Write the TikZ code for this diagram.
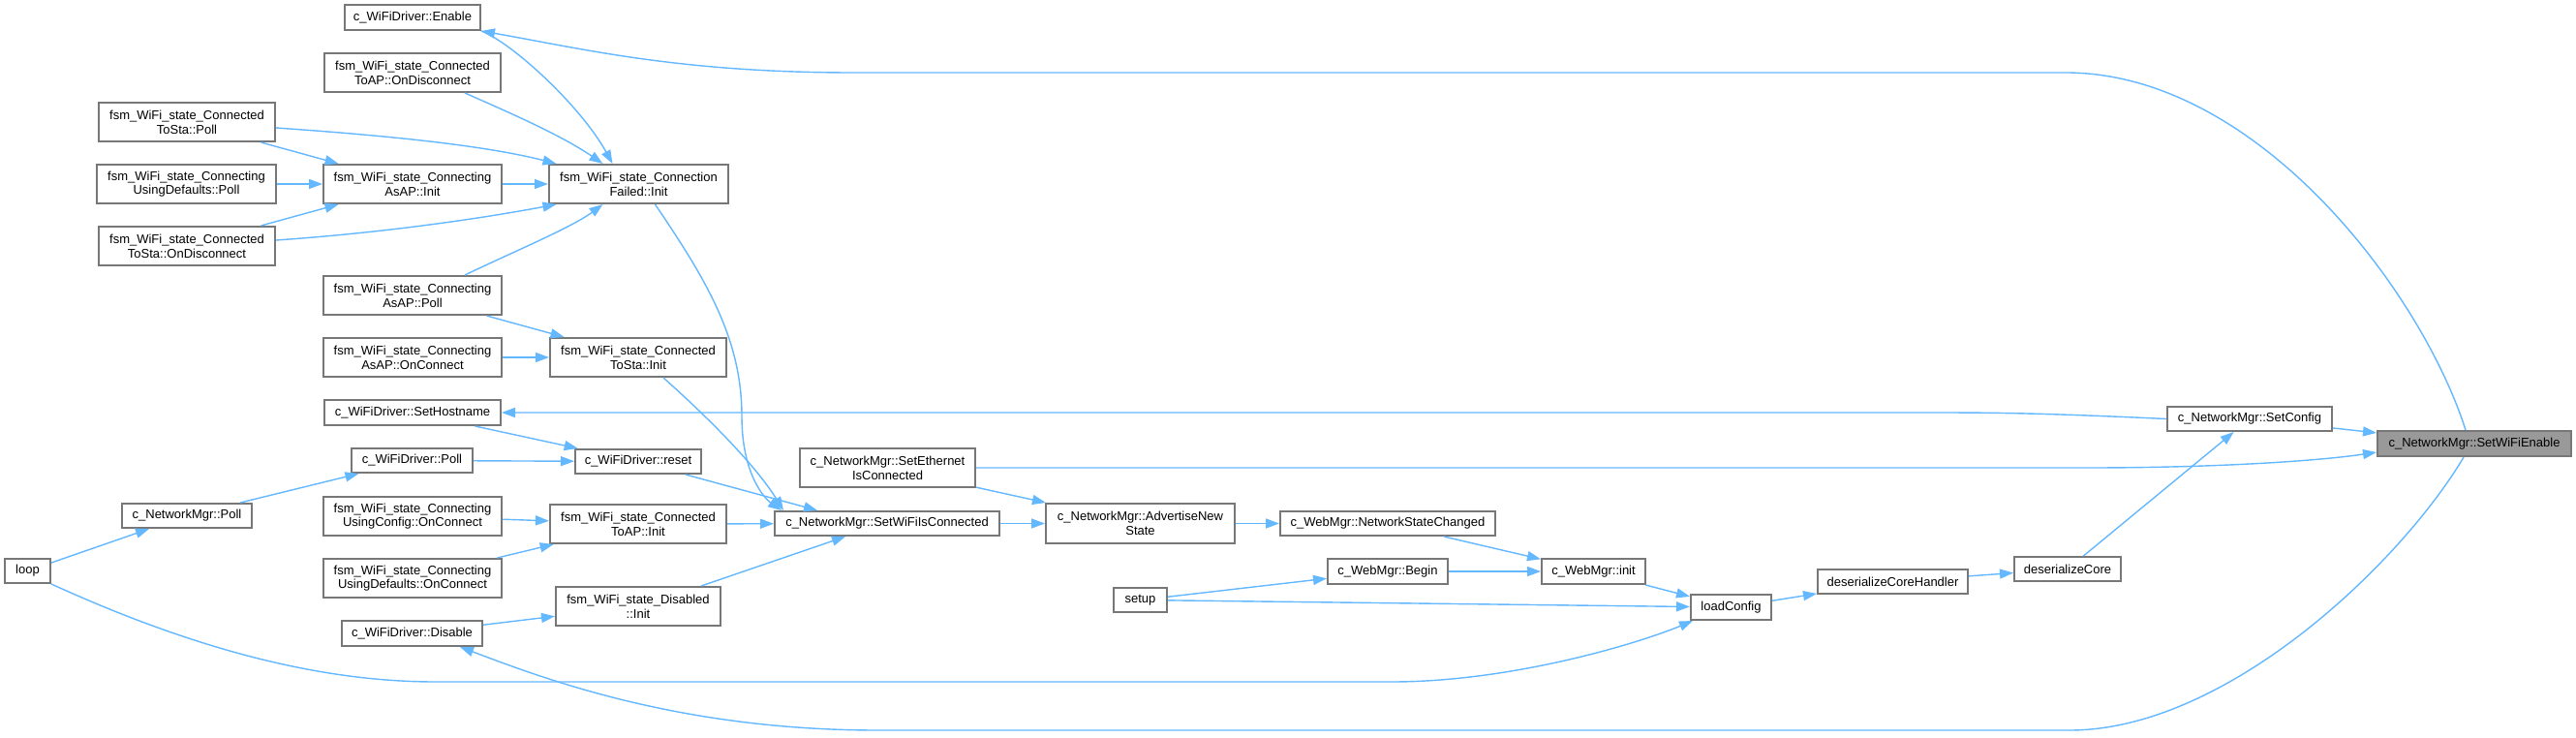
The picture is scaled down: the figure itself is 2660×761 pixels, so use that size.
\documentclass[tikz,border=0pt]{standalone}
\usepackage{fontspec}
\setmainfont{Liberation Sans}
\usetikzlibrary{arrows.meta}
\definecolor{edgeblue}{HTML}{63B8FF}
\definecolor{boxborder}{HTML}{777777}
\definecolor{hifill}{HTML}{999999}
\newcommand{\bx}[7][]{\node[box,#1,minimum width={(#5-#3)*0.5pt},minimum height={(#6-#4)*0.5pt}] (#2) at ({(#3+#5)/2},{(#4+#6)/2}) {#7};}
\begin{document}
\begin{tikzpicture}[x=0.5pt,y=-0.5pt,
 box/.style={draw=boxborder,line width=1pt,fill=white,inner sep=0pt,align=center,font=\fontsize{6.5pt}{7.35pt}\selectfont},
 conn/.style={draw=edgeblue,line width=0.7pt,-{Triangle[length=7pt,width=5pt]}}]
\fill[white] (0,0) rectangle (2660,761);
\useasboundingbox (0,0) rectangle (2660,761);
% nodes
\bx{enable}{356}{5}{496}{31}{c\_WiFiDriver::Enable}
\bx{taod}{335}{55}{517}{95}{fsm\_WiFi\_state\_Connected\\ToAP::OnDisconnect}
\bx{tsp}{102}{106}{284}{146}{fsm\_WiFi\_state\_Connected\\ToSta::Poll}
\bx{udp}{100}{170}{285}{210}{fsm\_WiFi\_state\_Connecting\\UsingDefaults::Poll}
\bx{aai}{334}{170}{518}{210}{fsm\_WiFi\_state\_Connecting\\AsAP::Init}
\bx{cf}{567}{170}{752}{210}{fsm\_WiFi\_state\_Connection\\Failed::Init}
\bx{tsd}{102}{234}{284}{274}{fsm\_WiFi\_state\_Connected\\ToSta::OnDisconnect}
\bx{aap}{334}{285}{518}{325}{fsm\_WiFi\_state\_Connecting\\AsAP::Poll}
\bx{aao}{334}{349}{518}{389}{fsm\_WiFi\_state\_Connecting\\AsAP::OnConnect}
\bx{tsi}{568}{349}{750}{389}{fsm\_WiFi\_state\_Connected\\ToSta::Init}
\bx{sh}{335}{413}{517}{439}{c\_WiFiDriver::SetHostname}
\bx{wdp}{363}{463}{488}{488}{c\_WiFiDriver::Poll}
\bx{reset}{594}{464}{724}{489}{c\_WiFiDriver::reset}
\bx{nmp}{126}{520}{260}{545}{c\_NetworkMgr::Poll}
\bx{uco}{334}{513}{518}{553}{fsm\_WiFi\_state\_Connecting\\UsingConfig::OnConnect}
\bx{tai}{568}{521}{750}{561}{fsm\_WiFi\_state\_Connected\\ToAP::Init}
\bx{loop}{5}{577}{52}{602}{loop}
\bx{udo}{334}{577}{518}{617}{fsm\_WiFi\_state\_Connecting\\UsingDefaults::OnConnect}
\bx{di}{574}{606}{744}{646}{fsm\_WiFi\_state\_Disabled\\::Init}
\bx{dis}{353}{641}{498}{667}{c\_WiFiDriver::Disable}
\bx{se}{826}{463}{1007}{503}{c\_NetworkMgr::SetEthernet\\IsConnected}
\bx{swc}{800}{528}{1032}{553}{c\_NetworkMgr::SetWiFiIsConnected}
\bx{ans}{1080}{520}{1275}{561}{c\_NetworkMgr::AdvertiseNew\\State}
\bx{setup}{1150}{607}{1205}{632}{setup}
\bx{nsc}{1322}{528}{1544}{553}{c\_WebMgr::NetworkStateChanged}
\bx{begin}{1371}{577}{1495}{603}{c\_WebMgr::Begin}
\bx{init}{1592}{577}{1699}{603}{c\_WebMgr::init}
\bx{lc}{1746}{614}{1829}{640}{loadConfig}
\bx{dch}{1877}{588}{2032}{613}{deserializeCoreHandler}
\bx{dc}{2080}{575}{2190}{600}{deserializeCore}
\bx{sc}{2238}{420}{2408}{445}{c\_NetworkMgr::SetConfig}
\bx[fill=hifill]{swe}{2455}{445}{2655}{471}{c\_NetworkMgr::SetWiFiEnable}
% connectors
\draw[conn] ([xshift=-4.5pt]swe.north) .. controls (2500,300) and (2330,75) .. (2133,75) -- (882,75) .. controls (700,75) and (600,50) .. (enable.south east);
\draw[conn] (enable.south east) .. controls (530,45) and (600,110) .. ([xshift=-13.5pt]cf.north);
\draw[conn] ([xshift=27pt]taod.south) .. controls (530,118) and (580,140) .. ([xshift=-18.5pt]cf.north);
\draw[conn] ([yshift=-3pt]tsp.east) .. controls (400,140) and (500,150) .. ([xshift=-42.5pt]cf.north);
\draw[conn] (tsp) -- (aai);
\draw[conn] (udp) -- (aai);
\draw[conn] (aai) -- (cf);
\draw[conn] (tsd) -- (aai);
\draw[conn] ([yshift=3pt]tsd.east) .. controls (400,240) and (500,225) .. ([xshift=-42.5pt]cf.south);
\draw[conn] ([xshift=27pt]aap.north) .. controls (530,260) and (590,235) .. ([xshift=-18.5pt]cf.south);
\draw[conn] (aap) -- (tsi);
\draw[conn] (aao) -- (tsi);
\draw[conn] ([xshift=8.5pt]cf.south) .. controls (730,290) and (766,350) .. (766,430) .. controls (766,490) and (790,515) .. ([xshift=4pt]swc.north west);
\draw[conn] ([xshift=13pt]tsi.south) .. controls (730,430) and (780,480) .. ([xshift=5pt]swc.north west);
\draw[conn] (sc.west) .. controls (2100,426) and (2050,426) .. (1990,426) -- (sh.east);
\draw[conn] (sh) -- (reset);
\draw[conn] (wdp) -- (reset);
\draw[conn] (nmp) -- (wdp);
\draw[conn] (loop) -- (nmp);
\draw[conn] ([xshift=-8.5pt]reset.south east) -- ([xshift=22.5pt]swc.north west);
\draw[conn] (uco) -- (tai);
\draw[conn] (udo) -- (tai);
\draw[conn] (tai) -- (swc);
\draw[conn] ([xshift=-10.5pt]di.north east) -- ([xshift=37pt]swc.south west);
\draw[conn] (dis) -- (di);
\draw[conn] ([xshift=-5.5pt]swe.south) .. controls (2480,580) and (2300,754) .. (2137,754) -- (907,754) .. controls (700,754) and (560,700) .. ([xshift=-12pt]dis.south east);
\draw[conn] (loop.south east) .. controls (200,670) and (330,704) .. (450,704) -- (1437,704) .. controls (1560,704) and (1690,665) .. ([xshift=1.5pt]lc.south west);
\draw[conn] (setup) -- (begin);
\draw[conn] (setup) -- (lc);
\draw[conn] (se) -- (ans);
\draw[conn] (se.east) -- (2154,483) .. controls (2300,483) and (2400,475) .. ([yshift=-4.5pt]swe.west);
\draw[conn] (swc) -- (ans);
\draw[conn] (ans) -- (nsc);
\draw[conn] (nsc) -- (init);
\draw[conn] (begin) -- (init);
\draw[conn] (init) -- (lc);
\draw[conn] (lc) -- (dch);
\draw[conn] (dch) -- (dc);
\draw[conn] (dc) -- (sc);
\draw[conn] (sc) -- (swe);
\end{tikzpicture}
\end{document}
